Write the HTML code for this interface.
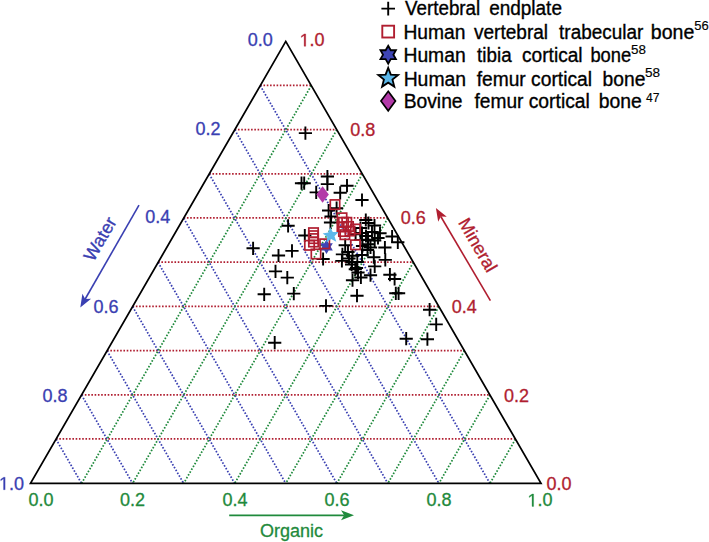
<!DOCTYPE html>
<html><head><meta charset="utf-8"><style>
html,body{margin:0;padding:0;background:#fff;width:709px;height:542px;overflow:hidden}
svg{display:block}
</style></head><body>
<svg width="709" height="542" viewBox="0 0 709 542">
<rect width="709" height="542" fill="#fff"/>
<line x1="260.23" y1="85.35" x2="311.27" y2="85.35" stroke="#b01e30" stroke-width="1.75" stroke-dasharray="1.6 1.67"/>
<line x1="234.70" y1="129.55" x2="336.80" y2="129.55" stroke="#b01e30" stroke-width="1.75" stroke-dasharray="1.6 1.67"/>
<line x1="209.18" y1="173.75" x2="362.32" y2="173.75" stroke="#b01e30" stroke-width="1.75" stroke-dasharray="1.6 1.67"/>
<line x1="183.65" y1="217.95" x2="387.85" y2="217.95" stroke="#b01e30" stroke-width="1.75" stroke-dasharray="1.6 1.67"/>
<line x1="158.12" y1="262.15" x2="413.38" y2="262.15" stroke="#b01e30" stroke-width="1.75" stroke-dasharray="1.6 1.67"/>
<line x1="132.60" y1="306.35" x2="438.90" y2="306.35" stroke="#b01e30" stroke-width="1.75" stroke-dasharray="1.6 1.67"/>
<line x1="107.08" y1="350.55" x2="464.42" y2="350.55" stroke="#b01e30" stroke-width="1.75" stroke-dasharray="1.6 1.67"/>
<line x1="81.55" y1="394.75" x2="489.95" y2="394.75" stroke="#b01e30" stroke-width="1.75" stroke-dasharray="1.6 1.67"/>
<line x1="56.03" y1="438.95" x2="515.48" y2="438.95" stroke="#b01e30" stroke-width="1.75" stroke-dasharray="1.6 1.67"/>
<line x1="260.23" y1="85.60" x2="489.95" y2="483.40" stroke="#3a40b2" stroke-width="1.75" stroke-dasharray="1.6 1.67"/>
<line x1="234.70" y1="129.80" x2="438.90" y2="483.40" stroke="#3a40b2" stroke-width="1.75" stroke-dasharray="1.6 1.67"/>
<line x1="209.18" y1="174.00" x2="387.85" y2="483.40" stroke="#3a40b2" stroke-width="1.75" stroke-dasharray="1.6 1.67"/>
<line x1="183.65" y1="218.20" x2="336.80" y2="483.40" stroke="#3a40b2" stroke-width="1.75" stroke-dasharray="1.6 1.67"/>
<line x1="158.12" y1="262.40" x2="285.75" y2="483.40" stroke="#3a40b2" stroke-width="1.75" stroke-dasharray="1.6 1.67"/>
<line x1="132.60" y1="306.60" x2="234.70" y2="483.40" stroke="#3a40b2" stroke-width="1.75" stroke-dasharray="1.6 1.67"/>
<line x1="107.08" y1="350.80" x2="183.65" y2="483.40" stroke="#3a40b2" stroke-width="1.75" stroke-dasharray="1.6 1.67"/>
<line x1="81.55" y1="395.00" x2="132.60" y2="483.40" stroke="#3a40b2" stroke-width="1.75" stroke-dasharray="1.6 1.67"/>
<line x1="56.03" y1="439.20" x2="81.55" y2="483.40" stroke="#3a40b2" stroke-width="1.75" stroke-dasharray="1.6 1.67"/>
<line x1="311.27" y1="85.60" x2="81.55" y2="483.40" stroke="#1f8a3c" stroke-width="1.75" stroke-dasharray="1.6 1.67"/>
<line x1="336.80" y1="129.80" x2="132.60" y2="483.40" stroke="#1f8a3c" stroke-width="1.75" stroke-dasharray="1.6 1.67"/>
<line x1="362.32" y1="174.00" x2="183.65" y2="483.40" stroke="#1f8a3c" stroke-width="1.75" stroke-dasharray="1.6 1.67"/>
<line x1="387.85" y1="218.20" x2="234.70" y2="483.40" stroke="#1f8a3c" stroke-width="1.75" stroke-dasharray="1.6 1.67"/>
<line x1="413.38" y1="262.40" x2="285.75" y2="483.40" stroke="#1f8a3c" stroke-width="1.75" stroke-dasharray="1.6 1.67"/>
<line x1="438.90" y1="306.60" x2="336.80" y2="483.40" stroke="#1f8a3c" stroke-width="1.75" stroke-dasharray="1.6 1.67"/>
<line x1="464.42" y1="350.80" x2="387.85" y2="483.40" stroke="#1f8a3c" stroke-width="1.75" stroke-dasharray="1.6 1.67"/>
<line x1="489.95" y1="395.00" x2="438.90" y2="483.40" stroke="#1f8a3c" stroke-width="1.75" stroke-dasharray="1.6 1.67"/>
<line x1="515.48" y1="439.20" x2="489.95" y2="483.40" stroke="#1f8a3c" stroke-width="1.75" stroke-dasharray="1.6 1.67"/>
<path d="M285.75,41.4 L541.0,483.4 L30.5,483.4 Z" fill="none" stroke="#000" stroke-width="1.75" stroke-linejoin="miter"/>
<text x="247.8" y="46.3" fill="#3a40b2" font-size="18" text-anchor="start" style="font-family:'Liberation Sans',sans-serif" stroke="#3a40b2" stroke-width="0.3">0.0</text>
<text x="195.6" y="134.7" fill="#3a40b2" font-size="18" text-anchor="start" style="font-family:'Liberation Sans',sans-serif" stroke="#3a40b2" stroke-width="0.3">0.2</text>
<text x="145.3" y="223.0" fill="#3a40b2" font-size="18" text-anchor="start" style="font-family:'Liberation Sans',sans-serif" stroke="#3a40b2" stroke-width="0.3">0.4</text>
<text x="93.6" y="312.6" fill="#3a40b2" font-size="18" text-anchor="start" style="font-family:'Liberation Sans',sans-serif" stroke="#3a40b2" stroke-width="0.3">0.6</text>
<text x="42.4" y="402.3" fill="#3a40b2" font-size="18" text-anchor="start" style="font-family:'Liberation Sans',sans-serif" stroke="#3a40b2" stroke-width="0.3">0.8</text>
<path d="M3.53,489.69 L3.53,478.82 L0.73,480.81 L0.73,479.32 L3.66,477.30 L5.12,477.30 L5.12,489.69 Z" fill="#3a40b2" stroke="#3a40b2" stroke-width="0.3"/><text x="9.01" y="489.7" fill="#3a40b2" font-size="18" style="font-family:'Liberation Sans',sans-serif" stroke="#3a40b2" stroke-width="0.3">.0</text>
<path d="M304.13,46.29 L304.13,35.42 L301.33,37.41 L301.33,35.92 L304.26,33.90 L305.72,33.90 L305.72,46.29 Z" fill="#b01e30" stroke="#b01e30" stroke-width="0.3"/><text x="309.61" y="46.3" fill="#b01e30" font-size="18" style="font-family:'Liberation Sans',sans-serif" stroke="#b01e30" stroke-width="0.3">.0</text>
<text x="350.2" y="136.0" fill="#b01e30" font-size="18" text-anchor="start" style="font-family:'Liberation Sans',sans-serif" stroke="#b01e30" stroke-width="0.3">0.8</text>
<text x="400.7" y="224.0" fill="#b01e30" font-size="18" text-anchor="start" style="font-family:'Liberation Sans',sans-serif" stroke="#b01e30" stroke-width="0.3">0.6</text>
<text x="451.8" y="313.1" fill="#b01e30" font-size="18" text-anchor="start" style="font-family:'Liberation Sans',sans-serif" stroke="#b01e30" stroke-width="0.3">0.4</text>
<text x="504.0" y="401.9" fill="#b01e30" font-size="18" text-anchor="start" style="font-family:'Liberation Sans',sans-serif" stroke="#b01e30" stroke-width="0.3">0.2</text>
<text x="546.6" y="490.2" fill="#b01e30" font-size="18" text-anchor="start" style="font-family:'Liberation Sans',sans-serif" stroke="#b01e30" stroke-width="0.3">0.0</text>
<text x="28.4" y="506.4" fill="#1f8a3c" font-size="18" text-anchor="start" style="font-family:'Liberation Sans',sans-serif" stroke="#1f8a3c" stroke-width="0.3">0.0</text>
<text x="119.9" y="506.4" fill="#1f8a3c" font-size="18" text-anchor="start" style="font-family:'Liberation Sans',sans-serif" stroke="#1f8a3c" stroke-width="0.3">0.2</text>
<text x="222.4" y="506.4" fill="#1f8a3c" font-size="18" text-anchor="start" style="font-family:'Liberation Sans',sans-serif" stroke="#1f8a3c" stroke-width="0.3">0.4</text>
<text x="324.5" y="506.4" fill="#1f8a3c" font-size="18" text-anchor="start" style="font-family:'Liberation Sans',sans-serif" stroke="#1f8a3c" stroke-width="0.3">0.6</text>
<text x="426.6" y="506.4" fill="#1f8a3c" font-size="18" text-anchor="start" style="font-family:'Liberation Sans',sans-serif" stroke="#1f8a3c" stroke-width="0.3">0.8</text>
<path d="M532.03,506.39 L532.03,495.52 L529.23,497.51 L529.23,496.02 L532.16,494.00 L533.62,494.00 L533.62,506.39 Z" fill="#1f8a3c" stroke="#1f8a3c" stroke-width="0.3"/><text x="537.51" y="506.4" fill="#1f8a3c" font-size="18" style="font-family:'Liberation Sans',sans-serif" stroke="#1f8a3c" stroke-width="0.3">.0</text>
<line x1="139.0" y1="205.2" x2="85.2" y2="299.0" stroke="#3a40b2" stroke-width="1.6"/><path d="M80.3,307.5 L82.4,293.7 L85.2,299.0 L91.1,298.7 Z" fill="#3a40b2"/>
<line x1="490.4" y1="300.6" x2="440.8" y2="216.5" stroke="#b01e30" stroke-width="1.6"/><path d="M435.9,208.1 L446.8,216.8 L440.8,216.5 L438.2,221.8 Z" fill="#b01e30"/>
<line x1="229.2" y1="515.3" x2="344.2" y2="515.3" stroke="#1f8a3c" stroke-width="1.8"/><path d="M354.0,515.3 L341.0,520.3 L344.2,515.3 L341.0,510.3 Z" fill="#1f8a3c"/>
<text transform="translate(105.3,242) rotate(-60)" fill="#3a40b2" font-size="18" text-anchor="middle" style="font-family:'Liberation Sans',sans-serif" stroke="#3a40b2" stroke-width="0.3">Water</text>
<text transform="translate(472.5,248) rotate(60)" fill="#b01e30" font-size="18" text-anchor="middle" style="font-family:'Liberation Sans',sans-serif" stroke="#b01e30" stroke-width="0.3">Mineral</text>
<text x="291.5" y="537.2" fill="#1f8a3c" font-size="18" text-anchor="middle" style="font-family:'Liberation Sans',sans-serif" stroke="#1f8a3c" stroke-width="0.3">Organic</text>
<path d="M298.8,133.1H312.0M305.4,126.5V139.7" stroke="#000" stroke-width="1.9" fill="none"/>
<path d="M294.9,183.2H308.1M301.5,176.6V189.8" stroke="#000" stroke-width="1.9" fill="none"/>
<path d="M297.6,183.2H310.8M304.2,176.6V189.8" stroke="#000" stroke-width="1.9" fill="none"/>
<path d="M320.8,176.5H334.0M327.4,169.9V183.1" stroke="#000" stroke-width="1.9" fill="none"/>
<path d="M320.8,184.1H334.0M327.4,177.5V190.7" stroke="#000" stroke-width="1.9" fill="none"/>
<path d="M309.6,192.4H322.8M316.2,185.8V199.0" stroke="#000" stroke-width="1.9" fill="none"/>
<path d="M333.6,192.8H346.8M340.2,186.2V199.4" stroke="#000" stroke-width="1.9" fill="none"/>
<path d="M340.4,185.7H353.6M347.0,179.1V192.3" stroke="#000" stroke-width="1.9" fill="none"/>
<path d="M355.4,200.0H368.6M362.0,193.4V206.6" stroke="#000" stroke-width="1.9" fill="none"/>
<path d="M281.5,225.8H294.7M288.1,219.2V232.4" stroke="#000" stroke-width="1.9" fill="none"/>
<path d="M246.5,248.3H259.7M253.1,241.7V254.9" stroke="#000" stroke-width="1.9" fill="none"/>
<path d="M271.9,255.5H285.1M278.5,248.9V262.1" stroke="#000" stroke-width="1.9" fill="none"/>
<path d="M285.4,250.9H298.6M292.0,244.3V257.5" stroke="#000" stroke-width="1.9" fill="none"/>
<path d="M298.2,235.5H311.4M304.8,228.9V242.1" stroke="#000" stroke-width="1.9" fill="none"/>
<path d="M268.9,271.4H282.1M275.5,264.8V278.0" stroke="#000" stroke-width="1.9" fill="none"/>
<path d="M280.7,277.6H293.9M287.3,271.0V284.2" stroke="#000" stroke-width="1.9" fill="none"/>
<path d="M257.6,294.3H270.8M264.2,287.7V300.9" stroke="#000" stroke-width="1.9" fill="none"/>
<path d="M287.2,293.6H300.4M293.8,287.0V300.2" stroke="#000" stroke-width="1.9" fill="none"/>
<path d="M268.1,342.7H281.3M274.7,336.1V349.3" stroke="#000" stroke-width="1.9" fill="none"/>
<path d="M316.5,259.0H329.7M323.1,252.4V265.6" stroke="#000" stroke-width="1.9" fill="none"/>
<path d="M319.4,305.9H332.6M326.0,299.3V312.5" stroke="#000" stroke-width="1.9" fill="none"/>
<path d="M350.4,295.7H363.6M357.0,289.1V302.3" stroke="#000" stroke-width="1.9" fill="none"/>
<path d="M423.0,309.7H436.2M429.6,303.1V316.3" stroke="#000" stroke-width="1.9" fill="none"/>
<path d="M429.6,324.4H442.8M436.2,317.8V331.0" stroke="#000" stroke-width="1.9" fill="none"/>
<path d="M399.6,338.7H412.8M406.2,332.1V345.3" stroke="#000" stroke-width="1.9" fill="none"/>
<path d="M420.8,339.2H434.0M427.4,332.6V345.8" stroke="#000" stroke-width="1.9" fill="none"/>
<path d="M389.2,293.3H402.4M395.8,286.7V299.9" stroke="#000" stroke-width="1.9" fill="none"/>
<path d="M392.0,293.3H405.2M398.6,286.7V299.9" stroke="#000" stroke-width="1.9" fill="none"/>
<path d="M330.0,208.2H343.2M336.6,201.6V214.8" stroke="#000" stroke-width="1.9" fill="none"/>
<path d="M322.0,210.5H335.2M328.6,203.9V217.1" stroke="#000" stroke-width="1.9" fill="none"/>
<path d="M324.5,216.5H337.7M331.1,209.9V223.1" stroke="#000" stroke-width="1.9" fill="none"/>
<path d="M323.9,222.5H337.1M330.5,215.9V229.1" stroke="#000" stroke-width="1.9" fill="none"/>
<path d="M359.2,220.0H372.4M365.8,213.4V226.6" stroke="#000" stroke-width="1.9" fill="none"/>
<path d="M361.9,223.0H375.1M368.5,216.4V229.6" stroke="#000" stroke-width="1.9" fill="none"/>
<path d="M367.9,225.5H381.1M374.5,218.9V232.1" stroke="#000" stroke-width="1.9" fill="none"/>
<path d="M353.9,228.0H367.1M360.5,221.4V234.6" stroke="#000" stroke-width="1.9" fill="none"/>
<path d="M355.4,233.0H368.6M362.0,226.4V239.6" stroke="#000" stroke-width="1.9" fill="none"/>
<path d="M373.4,233.2H386.6M380.0,226.6V239.8" stroke="#000" stroke-width="1.9" fill="none"/>
<path d="M361.4,239.6H374.6M368.0,233.0V246.2" stroke="#000" stroke-width="1.9" fill="none"/>
<path d="M368.1,240.5H381.3M374.7,233.9V247.1" stroke="#000" stroke-width="1.9" fill="none"/>
<path d="M349.0,234.2H362.2M355.6,227.6V240.8" stroke="#000" stroke-width="1.9" fill="none"/>
<path d="M361.6,244.2H374.8M368.2,237.6V250.8" stroke="#000" stroke-width="1.9" fill="none"/>
<path d="M338.6,245.2H351.8M345.2,238.6V251.8" stroke="#000" stroke-width="1.9" fill="none"/>
<path d="M353.9,240.0H367.1M360.5,233.4V246.6" stroke="#000" stroke-width="1.9" fill="none"/>
<path d="M385.5,236.5H398.7M392.1,229.9V243.1" stroke="#000" stroke-width="1.9" fill="none"/>
<path d="M391.2,242.3H404.4M397.8,235.7V248.9" stroke="#000" stroke-width="1.9" fill="none"/>
<path d="M378.3,247.5H391.5M384.9,240.9V254.1" stroke="#000" stroke-width="1.9" fill="none"/>
<path d="M367.2,257.2H380.4M373.8,250.6V263.8" stroke="#000" stroke-width="1.9" fill="none"/>
<path d="M378.7,259.9H391.9M385.3,253.3V266.5" stroke="#000" stroke-width="1.9" fill="none"/>
<path d="M368.1,266.4H381.3M374.7,259.8V273.0" stroke="#000" stroke-width="1.9" fill="none"/>
<path d="M363.9,275.2H377.1M370.5,268.6V281.8" stroke="#000" stroke-width="1.9" fill="none"/>
<path d="M383.3,274.7H396.5M389.9,268.1V281.3" stroke="#000" stroke-width="1.9" fill="none"/>
<path d="M388.0,279.0H401.2M394.6,272.4V285.6" stroke="#000" stroke-width="1.9" fill="none"/>
<path d="M354.3,277.5H367.5M360.9,270.9V284.1" stroke="#000" stroke-width="1.9" fill="none"/>
<path d="M345.9,280.2H359.1M352.5,273.6V286.8" stroke="#000" stroke-width="1.9" fill="none"/>
<path d="M348.7,269.2H361.9M355.3,262.6V275.8" stroke="#000" stroke-width="1.9" fill="none"/>
<path d="M345.0,264.5H358.2M351.6,257.9V271.1" stroke="#000" stroke-width="1.9" fill="none"/>
<path d="M345.9,255.8H359.1M352.5,249.2V262.4" stroke="#000" stroke-width="1.9" fill="none"/>
<path d="M335.8,254.4H349.0M342.4,247.8V261.0" stroke="#000" stroke-width="1.9" fill="none"/>
<path d="M335.3,260.9H348.5M341.9,254.3V267.5" stroke="#000" stroke-width="1.9" fill="none"/>
<path d="M341.4,252.0H354.6M348.0,245.4V258.6" stroke="#000" stroke-width="1.9" fill="none"/>
<path d="M350.7,262.0H363.9M357.3,255.4V268.6" stroke="#000" stroke-width="1.9" fill="none"/>
<path d="M360.9,250.0H374.1M367.5,243.4V256.6" stroke="#000" stroke-width="1.9" fill="none"/>
<path d="M355.4,255.0H368.6M362.0,248.4V261.6" stroke="#000" stroke-width="1.9" fill="none"/>
<path d="M345.4,262.0H358.6M352.0,255.4V268.6" stroke="#000" stroke-width="1.9" fill="none"/>
<path d="M349.9,268.0H363.1M356.5,261.4V274.6" stroke="#000" stroke-width="1.9" fill="none"/>
<path d="M342.4,258.5H355.6M349.0,251.9V265.1" stroke="#000" stroke-width="1.9" fill="none"/>
<path d="M351.4,272.5H364.6M358.0,265.9V279.1" stroke="#000" stroke-width="1.9" fill="none"/>
<path d="M359.4,236.0H372.6M366.0,229.4V242.6" stroke="#000" stroke-width="1.9" fill="none"/>
<path d="M365.4,232.0H378.6M372.0,225.4V238.6" stroke="#000" stroke-width="1.9" fill="none"/>
<path d="M355.9,246.0H369.1M362.5,239.4V252.6" stroke="#000" stroke-width="1.9" fill="none"/>
<path d="M363.9,247.5H377.1M370.5,240.9V254.1" stroke="#000" stroke-width="1.9" fill="none"/>
<path d="M371.4,238.0H384.6M378.0,231.4V244.6" stroke="#000" stroke-width="1.9" fill="none"/>
<polygon points="322.6,186.25 328.85,194.5 322.6,202.75 316.35,194.5" fill="#b23aa8" stroke="#000" stroke-width="0"/>
<polygon points="326.50,239.50 328.62,243.13 332.82,243.15 330.73,246.80 332.82,250.45 328.62,250.47 326.50,254.10 324.38,250.47 320.18,250.45 322.27,246.80 320.18,243.15 324.38,243.13" fill="#3e45b4" stroke="#000" stroke-width="0" stroke-linejoin="miter"/>
<rect x="330.3" y="199.9" width="9.4" height="9.4" fill="none" stroke="#b01e30" stroke-width="1.7"/>
<rect x="337.3" y="213.1" width="9.4" height="9.4" fill="none" stroke="#b01e30" stroke-width="1.7"/>
<rect x="338.8" y="217.6" width="9.4" height="9.4" fill="none" stroke="#b01e30" stroke-width="1.7"/>
<rect x="342.1" y="217.6" width="9.4" height="9.4" fill="none" stroke="#b01e30" stroke-width="1.7"/>
<rect x="337.3" y="222.3" width="9.4" height="9.4" fill="none" stroke="#b01e30" stroke-width="1.7"/>
<rect x="343.8" y="221.8" width="9.4" height="9.4" fill="none" stroke="#b01e30" stroke-width="1.7"/>
<rect x="338.8" y="226.8" width="9.4" height="9.4" fill="none" stroke="#b01e30" stroke-width="1.7"/>
<rect x="345.3" y="226.3" width="9.4" height="9.4" fill="none" stroke="#b01e30" stroke-width="1.7"/>
<rect x="350.8" y="224.3" width="9.4" height="9.4" fill="none" stroke="#b01e30" stroke-width="1.7"/>
<rect x="350.8" y="240.1" width="9.4" height="9.4" fill="none" stroke="#b01e30" stroke-width="1.7"/>
<rect x="308.8" y="228.0" width="9.4" height="9.4" fill="none" stroke="#b01e30" stroke-width="1.7"/>
<rect x="308.8" y="231.0" width="9.4" height="9.4" fill="none" stroke="#b01e30" stroke-width="1.7"/>
<rect x="308.8" y="233.9" width="9.4" height="9.4" fill="none" stroke="#b01e30" stroke-width="1.7"/>
<rect x="308.8" y="237.3" width="9.4" height="9.4" fill="none" stroke="#b01e30" stroke-width="1.7"/>
<rect x="304.8" y="240.6" width="9.4" height="9.4" fill="none" stroke="#b01e30" stroke-width="1.7"/>
<rect x="311.3" y="249.3" width="9.4" height="9.4" fill="none" stroke="#b01e30" stroke-width="1.7"/>
<rect x="320.0" y="239.1" width="9.4" height="9.4" fill="none" stroke="#b01e30" stroke-width="1.7"/>
<rect x="340.2" y="230.0" width="9.4" height="9.4" fill="none" stroke="#b01e30" stroke-width="1.7"/>
<polygon points="330.07,226.93 332.75,232.06 338.53,232.02 334.48,236.15 336.31,241.64 331.13,239.07 326.47,242.50 327.32,236.78 322.62,233.41 328.32,232.45" fill="#5cb8ea" stroke="#000" stroke-width="0" stroke-linejoin="miter"/>
<path d="M381.4,8.6H395.0M388.2,1.8V15.4" stroke="#000" stroke-width="1.9" fill="none"/>
<rect x="382.3" y="25.7" width="11.8" height="11.8" fill="none" stroke="#b01e30" stroke-width="1.9"/>
<polygon points="388.20,45.80 390.78,50.23 395.91,50.25 393.36,54.70 395.91,59.15 390.78,59.17 388.20,63.60 385.62,59.17 380.49,59.15 383.04,54.70 380.49,50.25 385.62,50.23" fill="#3e45b4" stroke="#000" stroke-width="1.8" stroke-linejoin="miter"/>
<polygon points="388.20,67.80 390.83,74.58 398.09,74.99 392.45,79.58 394.31,86.61 388.20,82.67 382.09,86.61 383.95,79.58 378.31,74.99 385.57,74.58" fill="#5cb8ea" stroke="#000" stroke-width="1.8" stroke-linejoin="miter"/>
<polygon points="388.2,91.35 395.45,101.1 388.2,110.85 380.95,101.1" fill="#b23aa8" stroke="#000" stroke-width="1.7"/>
<text x="405.00" y="15.3" font-size="20" textLength="75.27" lengthAdjust="spacingAndGlyphs" style="font-family:'Liberation Sans',sans-serif" fill="#000" stroke="#000" stroke-width="0.35">Vertebral</text>
<text x="489.14" y="15.3" font-size="20" textLength="72.84" lengthAdjust="spacingAndGlyphs" style="font-family:'Liberation Sans',sans-serif" fill="#000" stroke="#000" stroke-width="0.35">endplate</text>
<text x="403.46" y="38.6" font-size="20" textLength="62.02" lengthAdjust="spacingAndGlyphs" style="font-family:'Liberation Sans',sans-serif" fill="#000" stroke="#000" stroke-width="0.35">Human</text>
<text x="474.00" y="38.6" font-size="20" textLength="74.08" lengthAdjust="spacingAndGlyphs" style="font-family:'Liberation Sans',sans-serif" fill="#000" stroke="#000" stroke-width="0.35">vertebral</text>
<text x="559.12" y="38.6" font-size="20" textLength="84.23" lengthAdjust="spacingAndGlyphs" style="font-family:'Liberation Sans',sans-serif" fill="#000" stroke="#000" stroke-width="0.35">trabecular</text>
<text x="650.83" y="38.6" font-size="20" textLength="43.48" lengthAdjust="spacingAndGlyphs" style="font-family:'Liberation Sans',sans-serif" fill="#000" stroke="#000" stroke-width="0.35">bone</text>
<text x="694.18" y="30.1" font-size="12" textLength="14.45" lengthAdjust="spacingAndGlyphs" style="font-family:'Liberation Sans',sans-serif" fill="#000" stroke="#000" stroke-width="0.15">56</text>
<text x="403.46" y="61.6" font-size="20" textLength="62.22" lengthAdjust="spacingAndGlyphs" style="font-family:'Liberation Sans',sans-serif" fill="#000" stroke="#000" stroke-width="0.35">Human</text>
<text x="477.12" y="61.6" font-size="20" textLength="34.51" lengthAdjust="spacingAndGlyphs" style="font-family:'Liberation Sans',sans-serif" fill="#000" stroke="#000" stroke-width="0.35">tibia</text>
<text x="522.04" y="61.6" font-size="20" textLength="60.55" lengthAdjust="spacingAndGlyphs" style="font-family:'Liberation Sans',sans-serif" fill="#000" stroke="#000" stroke-width="0.35">cortical</text>
<text x="590.40" y="61.6" font-size="20" textLength="40.86" lengthAdjust="spacingAndGlyphs" style="font-family:'Liberation Sans',sans-serif" fill="#000" stroke="#000" stroke-width="0.35">bone</text>
<text x="630.96" y="53.6" font-size="12" textLength="14.89" lengthAdjust="spacingAndGlyphs" style="font-family:'Liberation Sans',sans-serif" fill="#000" stroke="#000" stroke-width="0.15">58</text>
<text x="403.65" y="85.5" font-size="20" textLength="62.43" lengthAdjust="spacingAndGlyphs" style="font-family:'Liberation Sans',sans-serif" fill="#000" stroke="#000" stroke-width="0.35">Human</text>
<text x="476.71" y="85.5" font-size="20" textLength="49.04" lengthAdjust="spacingAndGlyphs" style="font-family:'Liberation Sans',sans-serif" fill="#000" stroke="#000" stroke-width="0.35">femur</text>
<text x="531.03" y="85.5" font-size="20" textLength="61.07" lengthAdjust="spacingAndGlyphs" style="font-family:'Liberation Sans',sans-serif" fill="#000" stroke="#000" stroke-width="0.35">cortical</text>
<text x="602.54" y="85.5" font-size="20" textLength="42.85" lengthAdjust="spacingAndGlyphs" style="font-family:'Liberation Sans',sans-serif" fill="#000" stroke="#000" stroke-width="0.35">bone</text>
<text x="644.96" y="76.9" font-size="12" textLength="15.10" lengthAdjust="spacingAndGlyphs" style="font-family:'Liberation Sans',sans-serif" fill="#000" stroke="#000" stroke-width="0.15">58</text>
<text x="403.66" y="107.9" font-size="20" textLength="58.94" lengthAdjust="spacingAndGlyphs" style="font-family:'Liberation Sans',sans-serif" fill="#000" stroke="#000" stroke-width="0.35">Bovine</text>
<text x="474.51" y="107.9" font-size="20" textLength="48.94" lengthAdjust="spacingAndGlyphs" style="font-family:'Liberation Sans',sans-serif" fill="#000" stroke="#000" stroke-width="0.35">femur</text>
<text x="528.73" y="107.9" font-size="20" textLength="61.17" lengthAdjust="spacingAndGlyphs" style="font-family:'Liberation Sans',sans-serif" fill="#000" stroke="#000" stroke-width="0.35">cortical</text>
<text x="598.64" y="107.9" font-size="20" textLength="43.06" lengthAdjust="spacingAndGlyphs" style="font-family:'Liberation Sans',sans-serif" fill="#000" stroke="#000" stroke-width="0.35">bone</text>
<text x="646.06" y="101.5" font-size="12" textLength="13.50" lengthAdjust="spacingAndGlyphs" style="font-family:'Liberation Sans',sans-serif" fill="#000" stroke="#000" stroke-width="0.15">47</text>
</svg>
</body></html>
